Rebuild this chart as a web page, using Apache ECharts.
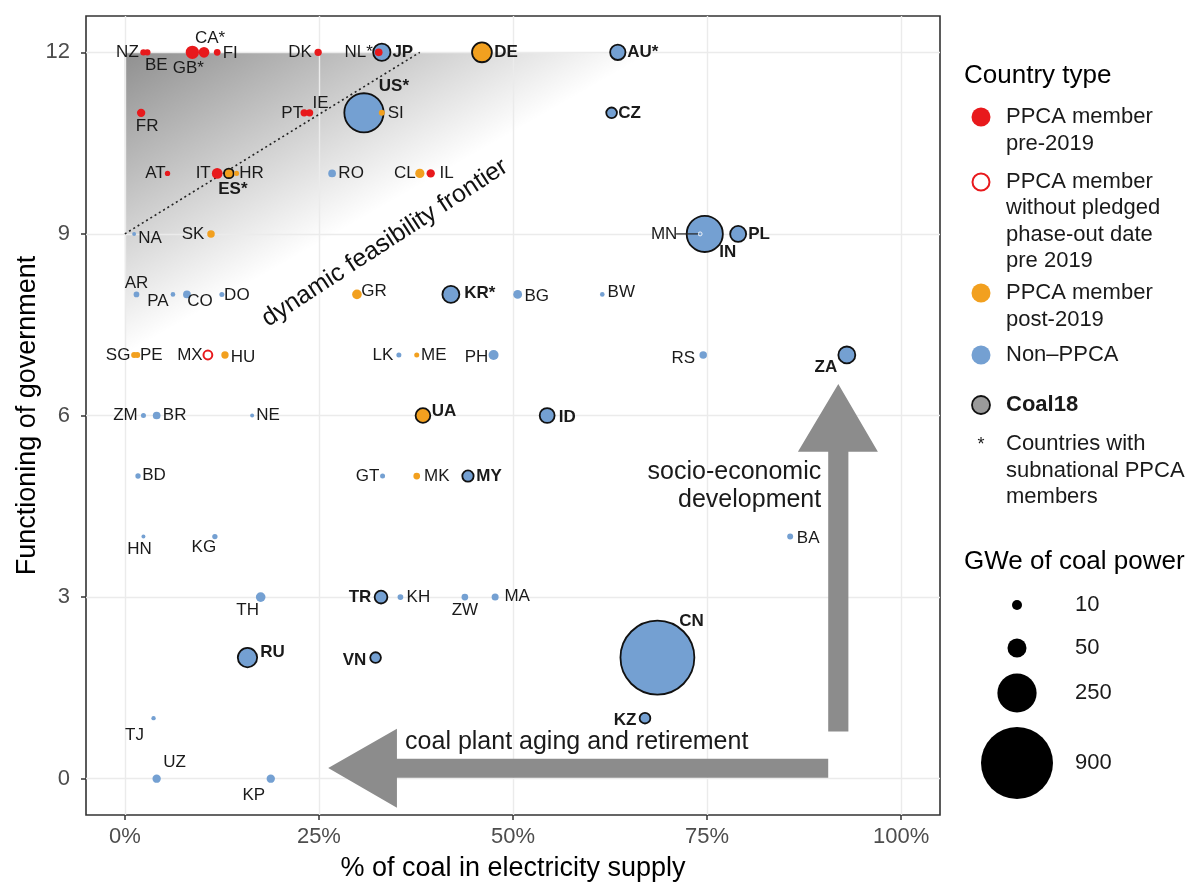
<!DOCTYPE html>
<html><head><meta charset="utf-8">
<script src="https://cdn.jsdelivr.net/npm/echarts@6/dist/echarts.min.js"></script>
<style>html,body{margin:0;padding:0;background:#fff}#c{width:1196px;height:882px}</style>
</head><body><div id="c"></div>
<script>
// ---------------- DATA ----------------
const countries   = ['NZ','BE','GB','CA','FI','DK','NL','JP','DE','AU','FR','PT','IE','US','SI','CZ','AT','IT','ES','HR','RO','CL','IL','NA','SK','MN','IN','PL','AR','PA','CO','DO','GR','KR','BG','BW','SG','PE','MX','HU','LK','ME','PH','RS','ZA','ZM','BR','NE','UA','ID','BD','GT','MK','MY','HN','KG','BA','TH','TR','KH','ZW','MA','RU','VN','CN','TJ','KZ','UZ','KP'];
const coalShare   = [2.4,2.9,8.7,10.2,11.9,24.9,32.7,33.1,46.0,63.5,2.1,23.1,23.8,30.8,33.1,62.7,5.5,11.9,13.4,14.4,26.7,38.0,39.4,1.2,11.1,74.1,74.7,79.0,1.5,6.2,8.0,12.5,29.9,42.0,50.6,61.5,1.2,1.6,10.7,12.9,35.3,37.6,47.5,74.5,93.0,2.4,4.1,16.4,38.4,54.4,1.7,33.2,37.6,44.2,2.4,11.6,85.7,17.5,33.0,35.5,43.8,47.7,15.8,32.3,68.6,3.7,67.0,4.1,18.8];
const govFunction = [12,12,12,12,12,12,12,12,12,12,11,11,11,11,11,11,10,10,10,10,10,10,10,9,9,9,9,9,8,8,8,8,8,8,8,8,7,7,7,7,7,7,7,7,7,6,6,6,6,6,5,5,5,5,4,4,4,3,3,3,3,3,2,2,2,1,1,0,0];
const coalGWe     = [2.5,2.5,21,12,3,4,4.7,40,55,30,6,4,4,250,2,12,1.3,12,9,1,4.7,8,6,0.3,4.3,0.3,210,33,1.7,0.7,4.7,1,9,38,7,0.7,2,2,7,4,1,1,10,4.3,38,1,4.7,0.3,27,28,1.3,1,3,14,0.3,1.3,2,9,19,1.7,3,3.5,52,12,950,0.5,12,6,6];
const countryType = ['pre','pre','pre','pre','pre','pre','pre','non','post','non','pre','pre','pre','non','post','non','pre','pre','post','post','non','post','pre','non','post','non','non','non','non','non','non','non','post','non','non','non','post','post','nopledge','post','non','post','non','non','non','non','non','non','post','non','non','non','post','non','non','non','non','non','non','non','non','non','non','non','non','non','non','non','non'];
const coal18      = ['JP','DE','AU','US','CZ','ES','IN','PL','KR','ZA','UA','ID','MY','TR','RU','VN','CN','KZ'];
const subnational = ['GB','CA','NL','AU','US','ES','KR'];
const xTicks = [0,25,50,75,100];
const yTicks = [0,3,6,9,12];
const frontierLine = [[0,9],[38,12]];
const frontierRegion = [[0,12],[68,12],[0,7]];
const sizeLegendValues = [10,50,250,900];

// ---------------- LAYOUT / STYLE ----------------
const FONT = '"Liberation Sans", Arial, Helvetica, sans-serif';
const COLORS = {pre:'#e8191c', nopledge:'#e8191c', post:'#f2a01f', non:'#74a0d2'};
function sizeOf(g){ return 2.7 + 2.31*Math.sqrt(g); }
const labelOffset = {
 NZ:[-16,0], BE:[9,13], GB:[-4,16], CA:[6,-14], FI:[13,1], DK:[-18,0], NL:[-20,0], JP:[21,0], DE:[24,0], AU:[25,0],
 FR:[6,13], PT:[-12,0], IE:[11,-10], US:[30,-27], SI:[14,0], CZ:[18,0],
 AT:[-12,0], IT:[-14,0], ES:[4,16], HR:[15,0], RO:[19,0], CL:[-15,0], IL:[16,0],
 NA:[16,4], SK:[-18,0], MN:[-36,0], IN:[23,18], PL:[21,0],
 AR:[0,-11], PA:[-15,7], CO:[13,7], DO:[15,1], GR:[17,-3], KR:[29,-1], BG:[19,2], BW:[19,-2],
 SG:[-16,0], PE:[14,0], MX:[-18,0], HU:[18,2], LK:[-16,0], ME:[17,0], PH:[-17,2], RS:[-20,3], ZA:[-21,12],
 ZM:[-18,0], BR:[18,0], NE:[16,0], UA:[21,-4], ID:[20,2],
 BD:[16,-1], GT:[-15,0], MK:[20,0], MY:[21,0],
 HN:[-4,13], KG:[-11,11], BA:[18,2],
 TH:[-13,13], TR:[-21,0], KH:[18,0], ZW:[0,13], MA:[22,-1],
 RU:[25,-5], VN:[-21,3], CN:[34,-36],
 TJ:[-19,17], KZ:[-20,2],
 UZ:[18,-16], KP:[-17,17]
};

const items = countries.map((c,i)=>({
  code:c, x:coalShare[i], y:govFunction[i], g:coalGWe[i], type:countryType[i],
  c18: coal18.includes(c), sub: subnational.includes(c)
}));
items.sort((a,b)=>b.g-a.g);

const pointData = items.map(it=>{
  const st = {color: COLORS[it.type], opacity:1};
  if (it.type==='nopledge'){ st.color='#ffffff'; st.borderColor=COLORS.pre; st.borderWidth=2; }
  if (it.c18){ st.borderColor='#111'; st.borderWidth=1.8; }
  if (it.code==='MN'){ st.borderColor='#eef3fa'; st.borderWidth=1; }
  return {
    name: it.code,
    value:[it.x,it.y],
    symbolSize: sizeOf(it.g),
    itemStyle: st,
    label:{
      show:true, position:'inside', offset: labelOffset[it.code]||[0,0],
      formatter: it.code + (it.sub?'*':''),
      fontFamily: FONT, fontSize:17, color:'#1a1a1a',
      fontWeight: it.c18 ? 'bold':'normal',
      textBorderWidth:0, align:'center', verticalAlign:'middle'
    }
  };
});

const chart = echarts.init(document.getElementById('c'));
chart.setOption({
  animation:false,
  backgroundColor:'#ffffff',
  grid:{left:86,right:256,top:16,bottom:67,outerBoundsMode:'none',containLabel:false,show:true,borderColor:'#333',borderWidth:1.6,backgroundColor:'transparent'},
  xAxis:{
    type:'value', min:-5, max:105,
    name:'% of coal in electricity supply', nameLocation:'middle', nameGap:40,
    nameTextStyle:{fontFamily:FONT,fontSize:27,color:'#000'},
    axisLine:{show:false,onZero:false},
    axisTick:{show:true,length:5,customValues:xTicks,lineStyle:{color:'#333',width:1.5}},
    axisLabel:{customValues:xTicks,formatter:v=>v+'%',fontFamily:FONT,fontSize:22,color:'#4d4d4d',margin:11},
    splitLine:{show:true,lineStyle:{color:'#ebebeb',width:1.4}}
  },
  yAxis:{
    type:'value', min:-0.6, max:12.6,
    axisLine:{show:false,onZero:false},
    axisTick:{show:true,length:5,customValues:yTicks,lineStyle:{color:'#333',width:1.5}},
    axisLabel:{customValues:yTicks,fontFamily:FONT,fontSize:22,color:'#4d4d4d',margin:16},
    splitLine:{show:true,lineStyle:{color:'#ebebeb',width:1.4}}
  },
  series:[
    {type:'line', data:frontierLine, symbol:'none', silent:true, z:3,
     lineStyle:{color:'#222',width:1.6,type:[2,3]}},
    {type:'scatter', data:pointData, z:4, silent:true}
  ]
});

// ---------------- ANNOTATIONS & LEGEND ----------------
function px(p){ return chart.convertToPixel({gridIndex:0}, p); }
const g = [];
// gradient region
const P0 = px(frontierRegion[0]), A = px(frontierRegion[1]), B = px(frontierRegion[2]);
const w = A[0]-P0[0], h = B[1]-P0[1];
const k = h*w/(h*h+w*w);
const F = [P0[0]+h*k, P0[1]+w*k];
g.push({type:'polygon', z:-1, silent:true,
  shape:{points:[P0,A,B]},
  style:{fill:new echarts.graphic.LinearGradient(P0[0],P0[1],F[0],F[1],[
    {offset:0,color:'rgba(0,0,0,0.44)'},{offset:1,color:'rgba(0,0,0,0)'}],true)}});

// arrows
const ARROW = '#8c8c8c';
const hArrow = [[90.6,0.016],[35.05,0.016],[35.05,-0.48],[26.2,0.175],[35.05,0.825],[35.05,0.33],[90.6,0.33]];
const vArrow = [[90.6,0.78],[90.6,5.4],[86.7,5.4],[91.9,6.52],[97.0,5.4],[93.2,5.4],[93.2,0.78]];
g.push({type:'polygon', z:1, silent:true, shape:{points:hArrow.map(px)}, style:{fill:ARROW}});
g.push({type:'polygon', z:1, silent:true, shape:{points:vArrow.map(px)}, style:{fill:ARROW}});

function txt(x,y,text,opt){
  return Object.assign({type:'text', z:10, silent:true, x:x, y:y,
    style:Object.assign({text:text, fontFamily:FONT, fontSize:22, fill:'#1a1a1a', textAlign:'left', textVerticalAlign:'middle'}, opt||{})});
}
// y-axis title
g.push({type:'text', z:10, silent:true, x:28, y:415.5, rotation:Math.PI/2,
  style:{text:'Functioning of government', fontFamily:FONT, fontSize:27, fill:'#000', textAlign:'center', textVerticalAlign:'middle'}});

let p = px([89.7,5.07]); g.push(txt(p[0],p[1],'socio-economic',{fontSize:25,textAlign:'right'}));
p = px([89.7,4.6]);  g.push(txt(p[0],p[1],'development',{fontSize:25,textAlign:'right'}));
p = px([36.1,0.61]); g.push(txt(p[0],p[1],'coal plant aging and retirement',{fontSize:25}));
p = px([33.5,8.85]);
g.push({type:'text', z:10, silent:true, x:p[0], y:p[1], rotation:33*Math.PI/180,
  style:{text:'dynamic feasibility frontier', fontFamily:FONT, fontSize:25, fill:'#111', textAlign:'center', textVerticalAlign:'middle'}});

// MN leader line
const mnIdx = countries.indexOf('MN');
p = px([coalShare[mnIdx], govFunction[mnIdx]]);
g.push({type:'line', z:5, silent:true, shape:{x1:p[0]-24,y1:p[1],x2:p[0]-2,y2:p[1]}, style:{stroke:'#222',lineWidth:1.2}});

// legend: country type
const LX = 981, TX = 1006;
g.push(txt(964,76,'Country type',{fontSize:26,fill:'#000'}));
g.push({type:'circle', z:10, shape:{cx:LX,cy:117,r:9.5}, style:{fill:COLORS.pre}});
g.push(txt(TX,117,'PPCA member')); g.push(txt(TX,144,'pre-2019'));
g.push({type:'circle', z:10, shape:{cx:LX,cy:182,r:8.5}, style:{fill:'#fff',stroke:COLORS.pre,lineWidth:2}});
g.push(txt(TX,182,'PPCA member')); g.push(txt(TX,208,'without pledged'));
g.push(txt(TX,235,'phase-out date')); g.push(txt(TX,261,'pre 2019'));
g.push({type:'circle', z:10, shape:{cx:LX,cy:293,r:9.5}, style:{fill:COLORS.post}});
g.push(txt(TX,293,'PPCA member')); g.push(txt(TX,320,'post-2019'));
g.push({type:'circle', z:10, shape:{cx:LX,cy:355,r:9.5}, style:{fill:COLORS.non}});
g.push(txt(TX,355,'Non\u2013PPCA'));
g.push({type:'circle', z:10, shape:{cx:LX,cy:405,r:9}, style:{fill:'#9a9a9a',stroke:'#111',lineWidth:1.8}});
g.push(txt(TX,405,'Coal18',{fontWeight:'bold'}));
g.push(txt(LX,445,'*',{fontSize:18,textAlign:'center'}));
g.push(txt(TX,444,'Countries with')); g.push(txt(TX,471,'subnational PPCA')); g.push(txt(TX,497,'members'));

// legend: size
g.push(txt(964,562,'GWe of coal power',{fontSize:26,fill:'#000'}));
const sizeY = [605,648,693,763];
sizeLegendValues.forEach((v,i)=>{
  g.push({type:'circle', z:10, shape:{cx:1017,cy:sizeY[i],r:sizeOf(v)/2}, style:{fill:'#000'}});
  g.push(txt(1075,sizeY[i],String(v)));
});

chart.setOption({graphic:{elements:g}});
</script>
</body></html>
